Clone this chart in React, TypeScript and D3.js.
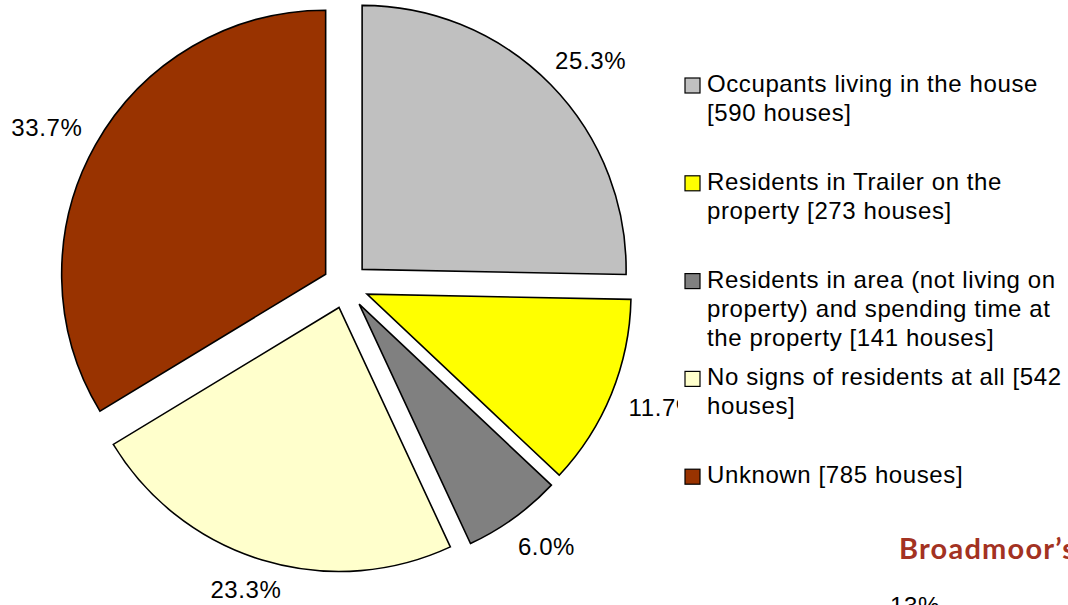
import React from 'react';
import * as d3 from 'd3';

const categories = [
  'Occupants living in the house [590 houses]',
  'Residents in Trailer on the property [273 houses]',
  'Residents in area (not living on property) and spending time at the property [141 houses]',
  'No signs of residents at all [542 houses]',
  'Unknown [785 houses]',
];
const legendLines = [
  ['Occupants living in the house', '[590 houses]'],
  ['Residents in Trailer on the', 'property [273 houses]'],
  ['Residents in area (not living on', 'property) and spending time at', 'the property [141 houses]'],
  ['No signs of residents at all [542', 'houses]'],
  ['Unknown [785 houses]'],
];
const houses = [590, 273, 141, 542, 785];
const colors = ['#C0C0C0', '#FFFF00', '#808080', '#FFFFCC', '#993300'];

const W = 1068;
const H = 605;
const cx = 345.7;
const cy = 285.5;
const radius = 264;
const explode = 23;
const font = 'Arial, "Liberation Sans", sans-serif';

export default function App() {
  const total = d3.sum(houses);
  const pie = d3
    .pie<number>()
    .sort(null)
    .value((d) => d);
  const arcs = pie(houses);
  const arc = d3.arc<d3.PieArcDatum<number>>().innerRadius(0).outerRadius(radius);
  const fmt = d3.format('.1%');

  // label box ~72x30 placed just outside its slice along the mid angle,
  // kept inside the chart area at the bottom
  const labelPos = (a: d3.PieArcDatum<number>) => {
    const mid = (a.startAngle + a.endAngle) / 2;
    const dx = Math.sin(mid);
    const dy = -Math.cos(mid);
    const r = explode + radius + 20;
    const x = dx * r + dx * 36;
    const y = Math.min(dy * r + dy * 15, H - 16 - cy);
    return [x, y];
  };

  const legendX = 685;
  const legendTop = 92;
  const entryStep = 97.8;
  const lineStep = 29;

  return (
    <svg
      width={W}
      height={H}
      style={{ position: 'absolute', left: 0, top: 0, background: '#fff' }}
    >
      <g transform={`translate(${cx},${cy})`}>
        {arcs.map((a, i) => {
          const mid = (a.startAngle + a.endAngle) / 2;
          return (
            <path
              key={categories[i]}
              d={arc(a) ?? ''}
              transform={`translate(${Math.sin(mid) * explode},${-Math.cos(mid) * explode})`}
              fill={colors[i]}
              stroke="#000"
              strokeWidth={1.6}
              strokeLinejoin="miter"
            />
          );
        })}
        {arcs.map((a, i) => {
          const [x, y] = labelPos(a);
          return (
            <text
              key={'l' + i}
              x={x}
              y={y}
              dy="0.36em"
              textAnchor="middle"
              fontFamily={font}
              fontSize={24}
              letterSpacing={0.6}
              fill="#000"
            >
              {fmt(a.data / total)}
            </text>
          );
        })}
      </g>
      <rect x={678} y={60} width={W - 678} height={440} fill="#fff" />
      {legendLines.map((lines, i) => {
        const y0 = legendTop + i * entryStep;
        return (
          <g key={'lg' + i}>
            <rect
              x={legendX}
              y={y0 - 14}
              width={15}
              height={15}
              fill={colors[i]}
              stroke="#000"
              strokeWidth={1.2}
            />
            {lines.map((t, j) => (
              <text
                key={j}
                x={legendX + 22}
                y={y0 + j * lineStep}
                fontFamily={font}
                fontSize={24}
                letterSpacing={0.6}
                fill="#000"
              >
                {t}
              </text>
            ))}
          </g>
        );
      })}
      <text
        x={899}
        y={559}
        fontFamily='Lato, "Open Sans", sans-serif'
        fontWeight="bold"
        fontSize={29}
        letterSpacing={1.2}
        fill="#A33222"
      >
        Broadmoor’s
      </text>
      <text x={890} y={614} fontFamily={font} fontSize={24} letterSpacing={0.6} fill="#000">
        13%
      </text>
    </svg>
  );
}
